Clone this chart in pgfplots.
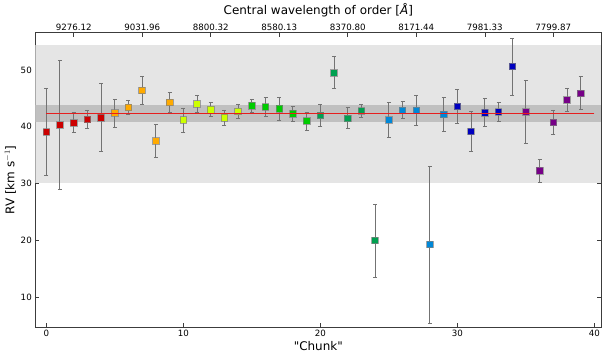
\documentclass[border=0pt]{standalone}
\usepackage{fontspec}
\setmainfont{DejaVu Sans}
\newfontfamily\plainfont{DejaVu Sans}
\usepackage{pgfplots}
\pgfplotsset{compat=1.18}

\definecolor{cred}{RGB}{204,0,0}
\definecolor{corange}{RGB}{255,170,0}
\definecolor{cyellow}{RGB}{204,255,0}
\definecolor{cgreen}{RGB}{0,204,0}
\definecolor{cteal}{RGB}{0,160,80}
\definecolor{clblue}{RGB}{0,136,216}
\definecolor{cdblue}{RGB}{0,0,192}
\definecolor{cpurple}{RGB}{119,0,136}
\definecolor{bandlight}{RGB}{229,229,229}
\definecolor{banddark}{RGB}{192,192,192}
\definecolor{framegray}{RGB}{60,60,60}
\definecolor{meanline}{RGB}{230,30,30}

\pgfplotsset{
  chunk/.style={
    only marks, mark=square*,
    mark size=3.3bp,
    mark options={fill=#1, draw=gray, line width=0.8bp, draw opacity=0.7},
    error bars/y dir=both, error bars/y explicit,
    error bars/error bar style={black!55, line width=1bp},
    error bars/error mark options={rotate=90, mark size=2bp, black!55, line width=0.8bp},
  },
  base/.style={
    scale only axis, width=566bp, height=294bp,
    xmin=-0.8, xmax=40.5, ymin=4.8, ymax=56.5,
    axis line style={framegray, line width=1bp},
    tick style={framegray, line width=0.6bp},
    major tick length=4bp,
    tick align=inside,
    ticklabel style={font=\fontsize{8.7}{10}\selectfont},
    /pgf/number format/assume math mode=true,
  },
}

\begin{document}
\begin{tikzpicture}
\begin{axis}[base,
  xtick={0,10,20,30,40}, ytick={10,20,30,40,50},
  xtick pos=bottom, ytick pos=both,
  yticklabel pos=left,
  xlabel={{\plainfont"Chunk"}}, ylabel={RV [km s$^{-1}$]},
  label style={font=\fontsize{12}{14}\selectfont},
  xlabel style={yshift=2bp},
  ylabel style={yshift=-2bp},
  clip=true,
]
% bands
\addplot[fill=bandlight, draw=none] coordinates {(-0.8,30.2) (40.5,30.2) (40.5,54.4) (-0.8,54.4)} -- cycle;
\addplot[fill=banddark, draw=none] coordinates {(-0.8,40.9) (40.5,40.9) (40.5,43.8) (-0.8,43.8)} -- cycle;

\addplot[chunk=cred] coordinates {
(0,39.1) +- (0,7.65)
(1,40.3) +- (0,11.3)
(2,40.7) +- (0,1.75)
(3,41.3) +- (0,1.55)
(4,41.6) +- (0,5.95)
};
\addplot[chunk=corange] coordinates {
(5,42.4) +- (0,2.45)
(6,43.4) +- (0,1.2)
(7,46.4) +- (0,2.5)
(8,37.5) +- (0,2.9)
(9,44.3) +- (0,1.8)
};
\addplot[chunk=cyellow] coordinates {
(10,41.2) +- (0,2.1)
(11,44.0) +- (0,1.45)
(12,43.0) +- (0,1.25)
(13,41.6) +- (0,1.35)
(14,42.7) +- (0,1.25)
};
\addplot[chunk=cgreen] coordinates {
(15,43.7) +- (0,1.15)
(16,43.5) +- (0,1.7)
(17,43.2) +- (0,2.05)
(18,42.3) +- (0,1.35)
(19,41.0) +- (0,1.6)
};
\addplot[chunk=cteal] coordinates {
(20,42.0) +- (0,1.9)
(21,49.5) +- (0,2.8)
(22,41.5) +- (0,1.85)
(23,42.8) +- (0,1.2)
(24,20.0) +- (0,6.4)
};
\addplot[chunk=clblue] coordinates {
(25,41.2) +- (0,3.05)
(26,42.9) +- (0,1.5)
(27,42.9) +- (0,2.6)
(28,19.3) +- (0,13.8)
(29,42.2) +- (0,2.95)
};
\addplot[chunk=cdblue] coordinates {
(30,43.6) +- (0,2.95)
(31,39.2) +- (0,3.6)
(32,42.5) +- (0,2.5)
(33,42.6) +- (0,1.7)
(34,50.6) +- (0,5.0)
};
\addplot[chunk=cpurple] coordinates {
(35,42.6) +- (0,5.55)
(36,32.3) +- (0,2.05)
(37,40.8) +- (0,2.15)
(38,44.7) +- (0,2.0)
(39,45.9) +- (0,2.9)
};
% mean RV: one "-" mark centred on x=20, half-length = 20 units (274.1bp)
\addplot[meanline, only marks, mark=-, mark size=274.1bp,
  mark options={draw=meanline, color=meanline, line width=1.5bp}] coordinates {(20,42.3)};
\end{axis}

\begin{axis}[base,
  axis x line*=top, axis y line=none,
  xtick={2,7,12,17,22,27,32,37},
  xticklabels={9276.12,9031.96,8800.32,8580.13,8370.80,8171.44,7981.33,7799.87},
  xlabel={Central wavelength of order [\textit{Å}]},
  xlabel style={font=\fontsize{12}{14}\selectfont, yshift=0bp},
  ticklabel style={yshift=-1bp},
]
\end{axis}
\path[use as bounding box] (-35.3bp,-33bp) rectangle (573.7bp,327bp);
\end{tikzpicture}
\end{document}
